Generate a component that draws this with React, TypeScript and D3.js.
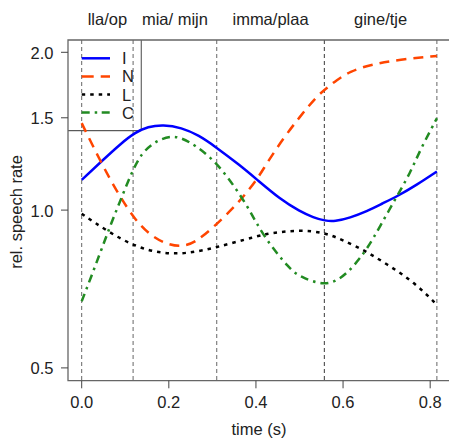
import React from "react";
import * as d3 from "d3";

const W = 449;
const H = 439;

const xTicks = [0, 0.2, 0.4, 0.6, 0.8];
const yTicks = [0.5, 1.0, 1.5, 2.0];
const boundaries = [0, 0.118, 0.31, 0.557, 0.8154];
const segmentLabels = ["lla/op", "mia/ mijn", "imma/plaa", "gine/tje"];

const tI = [0, 0.045, 0.091, 0.122, 0.152, 0.187, 0.229, 0.268, 0.305, 0.363, 0.401, 0.455, 0.501, 0.532, 0.559, 0.581, 0.616, 0.654, 0.692, 0.723, 0.769, 0.8154];
const vI = [1.142, 1.238, 1.342, 1.405, 1.443, 1.456, 1.437, 1.39, 1.325, 1.218, 1.146, 1.05, 0.994, 0.968, 0.954, 0.951, 0.967, 0.994, 1.031, 1.061, 1.117, 1.185];

const tN = [0, 0.045, 0.083, 0.122, 0.16, 0.198, 0.229, 0.259, 0.305, 0.351, 0.371, 0.402, 0.425, 0.463, 0.501, 0.539, 0.559, 0.585, 0.616, 0.658, 0.731, 0.8154];
const vN = [1.465, 1.229, 1.077, 0.958, 0.891, 0.859, 0.852, 0.865, 0.931, 1.016, 1.061, 1.142, 1.229, 1.371, 1.508, 1.646, 1.7, 1.771, 1.837, 1.891, 1.939, 1.968];

const tL = [0, 0.06, 0.122, 0.183, 0.244, 0.305, 0.401, 0.432, 0.501, 0.559, 0.601, 0.654, 0.708, 0.761, 0.8154];
const vL = [0.984, 0.91, 0.852, 0.826, 0.826, 0.847, 0.891, 0.904, 0.917, 0.906, 0.875, 0.834, 0.781, 0.731, 0.66];

const tC = [0, 0.022, 0.045, 0.068, 0.091, 0.114, 0.137, 0.168, 0.206, 0.244, 0.305, 0.351, 0.386, 0.417, 0.478, 0.501, 0.555, 0.593, 0.624, 0.654, 0.685, 0.723, 0.754, 0.777, 0.8154];
const vC = [0.67, 0.747, 0.84, 0.945, 1.054, 1.176, 1.284, 1.351, 1.391, 1.361, 1.247, 1.109, 1.0, 0.891, 0.77, 0.747, 0.717, 0.737, 0.781, 0.84, 0.931, 1.061, 1.176, 1.303, 1.497];

const seriesNames = ["I", "N", "L", "C"];
const seriesColors = ["#0000FF", "#FF4500", "#000000", "#228B22"];
const seriesDash = ["", "10,7", "3.5,5", "8,5,2.5,5"];
const legendDash = ["", "12,7", "3.5,5", "8,5,2.5,4.5"];

const FONT = "'Liberation Sans', Arial, Helvetica, sans-serif";
const FS = 16.5;

export default function App() {
  const left = 68, top = 40, bottom = 380.7;
  const x = d3.scaleLinear().domain([0, 0.8154]).range([81.7, 81.7 + 0.8154 * 435.6]);
  const y = d3.scaleLog().domain([0.5, 2]).range([367.9, 52.3]);
  const series = [
    [tI, vI],
    [tN, vN],
    [tL, vL],
    [tC, vC],
  ];
  const line = d3
    .line<[number, number]>()
    .x((d) => x(d[0]))
    .y((d) => y(d[1]))
    .curve(d3.curveBasis);

  return (
    <svg
      width={W}
      height={H}
      style={{ position: "absolute", left: 0, top: 0, background: "#fff" }}
      fontFamily={FONT}
    >
      <defs>
        <clipPath id="plot">
          <rect x={left} y={top} width={W - left} height={bottom - top} />
        </clipPath>
      </defs>
      {/* segment labels */}
      {segmentLabels.map((s, i) => (
        <text
          key={s}
          x={(x(boundaries[i]) + x(boundaries[i + 1])) / 2}
          y={25}
          fontSize={FS}
          textAnchor="middle"
          fill="#222"
        >
          {s}
        </text>
      ))}
      {/* boundaries */}
      {boundaries.map((b, i) => (
        <line
          key={i}
          x1={x(b)}
          x2={x(b)}
          y1={top}
          y2={bottom}
          stroke={i === 3 ? "#222" : "#555"}
          strokeWidth={0.9}
          strokeDasharray="4,3"
        />
      ))}
      {/* legend */}
      <line x1={141.3} x2={141.3} y1={top} y2={130.7} stroke="#666" strokeWidth={1.2} />
      <line x1={left} x2={141.3} y1={130.7} y2={130.7} stroke="#333" strokeWidth={1} />
      {seriesNames.map((n, i) => {
        const ly = 58.3 + i * 18.1;
        return (
          <g key={n}>
            <line
              x1={81.7}
              x2={110}
              y1={ly}
              y2={ly}
              stroke={seriesColors[i]}
              strokeWidth={2.5}
              strokeDasharray={legendDash[i] || undefined}
            />
            <text x={122} y={ly + 6} fontSize={FS} fill="#222">
              {n}
            </text>
          </g>
        );
      })}
      {/* curves */}
      <g clipPath="url(#plot)">
        {series.map(([t, v], i) => (
          <path
            key={i}
            d={line(t.map((tt, j) => [tt, v[j]] as [number, number])) || ""}
            fill="none"
            stroke={seriesColors[i]}
            strokeWidth={2.5}
            strokeDasharray={seriesDash[i] || undefined}
          />
        ))}
      </g>
      {/* box */}
      <path
        d={`M${W},${top}H${left}V${bottom}H${W}`}
        fill="none"
        stroke="#666"
        strokeWidth={1.3}
      />
      {/* y axis */}
      {yTicks.map((t) => (
        <g key={t}>
          <line x1={61} x2={left} y1={y(t)} y2={y(t)} stroke="#444" strokeWidth={1} />
          <text x={53.5} y={y(t) + 6.5} fontSize={FS} textAnchor="end" fill="#222">
            {t.toFixed(1)}
          </text>
        </g>
      ))}
      {/* x axis */}
      {xTicks.map((t) => (
        <g key={t}>
          <line x1={x(t)} x2={x(t)} y1={bottom} y2={388.3} stroke="#444" strokeWidth={1} />
          <text x={x(t)} y={408} fontSize={FS} textAnchor="middle" fill="#222">
            {t.toFixed(1)}
          </text>
        </g>
      ))}
      <text x={259} y={434.5} fontSize={FS} textAnchor="middle" fill="#222">
        time (s)
      </text>
      <text
        transform="translate(22,212) rotate(-90)"
        fontSize={FS}
        textAnchor="middle"
        fill="#222"
      >
        rel. speech rate
      </text>
    </svg>
  );
}
